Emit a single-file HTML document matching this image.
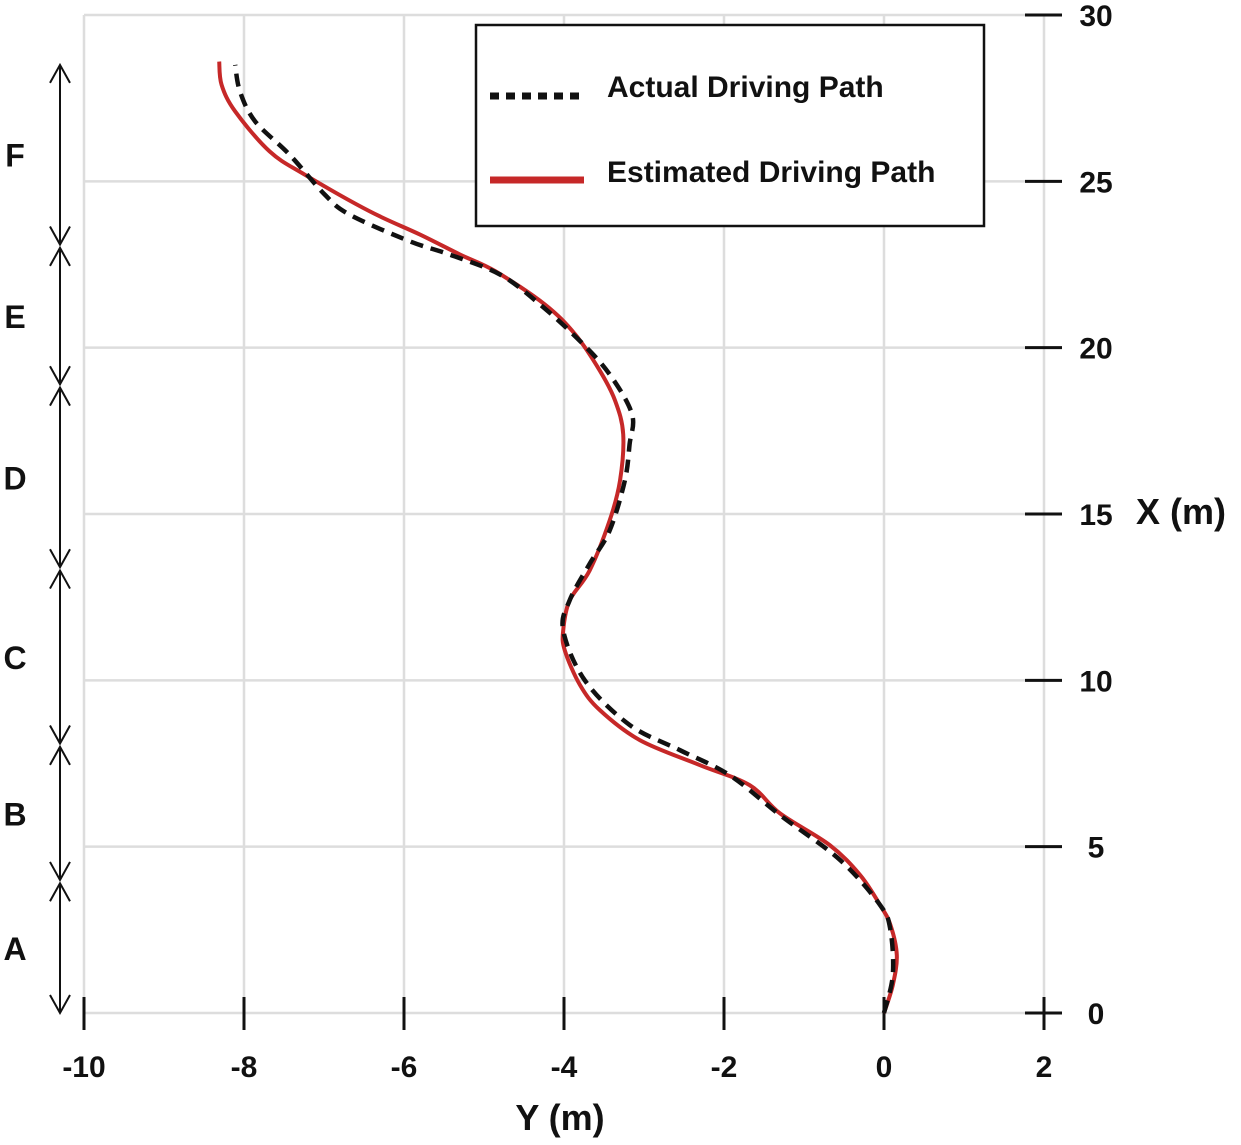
<!DOCTYPE html>
<html><head><meta charset="utf-8"><style>
body{margin:0;background:#fff}
text{font-family:"Liberation Sans",sans-serif;font-weight:bold;fill:#111}
</style></head><body>
<svg id="chart" width="1241" height="1140" xmlns="http://www.w3.org/2000/svg">
<g id="grid"></g>
<g id="axes"></g>
<g id="segments"></g>
<g id="series"></g>
<g>
<rect x="476" y="25" width="508" height="201" fill="#fff" stroke="#111" stroke-width="2.5"/>
<line x1="490" y1="96" x2="580" y2="96" stroke="#111" stroke-width="7" stroke-dasharray="9,7"/>
<text x="607" y="97" font-size="30">Actual Driving Path</text>
<line x1="490" y1="180" x2="584" y2="180" stroke="#c62828" stroke-width="7"/>
<text x="607" y="182" font-size="30">Estimated Driving Path</text>
</g>
<text x="560" y="1130" font-size="36" text-anchor="middle">Y (m)</text>
<text x="1136" y="524" font-size="36">X (m)</text>
</svg>
<script>
const yTicks=[-10,-8,-6,-4,-2,0,2];
const xTicks=[0,5,10,15,20,25,30];
const estY=[0,0.11,0.16,0.08,-0.05,-0.3,-0.68,-1.3,-1.68,-2.3,-3.05,-3.55,-3.8,-3.99,-4.01,-3.93,-3.68,-3.43,-3.3,-3.26,-3.36,-3.55,-3.86,-4.24,-4.86,-5.3,-5.8,-6.43,-7.24,-7.68,-8.11,-8.28,-8.31];
const estX=[0,0.84,1.74,2.65,3.25,4.15,5.05,6.0,6.85,7.45,8.2,9.1,9.86,10.9,11.5,12.4,13.3,14.8,16.0,17.4,18.4,19.3,20.4,21.3,22.3,22.8,23.4,24.1,25.2,25.9,27.1,27.9,28.6];
const actY=[0,0.11,0.08,-0.05,-0.55,-1.3,-1.93,-2.55,-3.18,-3.74,-4.01,-3.93,-3.68,-3.43,-3.24,-3.18,-3.15,-3.43,-3.8,-4.3,-4.8,-5.43,-5.93,-6.68,-6.99,-7.43,-7.86,-8.05,-8.11];
const actX=[0,1.14,2.5,3.25,4.6,5.95,7.15,7.9,8.66,10.0,11.5,12.4,13.5,14.5,16.0,17.1,18.0,19.2,20.2,21.3,22.2,22.8,23.2,24.0,24.6,25.8,26.8,27.7,28.5];
const segNames=["A","B","C","D","E","F"];
const segStart=[0,4,8.1,13.4,18.9,23.1];
const segEnd=[3.9,8.0,13.3,18.8,23.0,28.5];
const NS="http://www.w3.org/2000/svg";
const sx=v=>84+(v+10)*80;
const sy=v=>1013-v*(998/30);
function mk(tag,attrs,parent){const e=document.createElementNS(NS,tag);for(const k in attrs)e.setAttribute(k,attrs[k]);document.getElementById(parent).appendChild(e);return e;}
yTicks.forEach(t=>{
 const l=mk('line',{x1:sx(t),x2:sx(t),y1:15,y2:1013,stroke:'#ddd','stroke-width':2.5},'grid');
 
 
 const tk=mk('line',{x1:sx(t),x2:sx(t),y1:997,y2:1030,stroke:'#111','stroke-width':3},'axes');
 
 
 const tx=mk('text',{x:sx(t),y:1077,'font-size':30,'text-anchor':'middle'},'axes');
 tx.textContent=t;
 
 
});
xTicks.forEach(t=>{
 const l=mk('line',{x1:84,x2:1044,y1:sy(t),y2:sy(t),stroke:'#ddd','stroke-width':2.5},'grid');
 
 
 const tk=mk('line',{x1:1025,x2:1062,y1:sy(t),y2:sy(t),stroke:'#111','stroke-width':3},'axes');
 
 
 const tx=mk('text',{x:1096,y:sy(t)+11,'font-size':30,'text-anchor':'middle'},'axes');
 tx.textContent=t;
 
 
});
const ax=mk('line',{x1:1044,x2:1044,y1:997,y2:1030,stroke:'#111','stroke-width':3},'axes');


segNames.forEach((n,i)=>{
 const y1=sy(segEnd[i]),y2=sy(segStart[i]);
 const p=mk('path',{d:`M60 ${y1}V${y2}M50 ${y1+18}L60 ${y1}L70 ${y1+18}M50 ${y2-18}L60 ${y2}L70 ${y2-18}`,stroke:'#111','stroke-width':2,fill:'none'},'segments');
 
 
 const t=mk('text',{x:15,y:(y1+y2)/2+12,'font-size':32,'text-anchor':'middle'},'segments');
 t.textContent=n;
 
 
});
function smooth(ys,xs){
 const P=ys.map((v,i)=>[sx(v),sy(xs[i])]);
 let d=`M${P[0][0]} ${P[0][1]}`;
 for(let i=0;i<P.length-1;i++){
  const p0=P[Math.max(0,i-1)],p1=P[i],p2=P[i+1],p3=P[Math.min(P.length-1,i+2)];
  const c1=[p1[0]+(p2[0]-p0[0])/6,p1[1]+(p2[1]-p0[1])/6];
  const c2=[p2[0]-(p3[0]-p1[0])/6,p2[1]-(p3[1]-p1[1])/6];
  d+=`C${c1[0]} ${c1[1]} ${c2[0]} ${c2[1]} ${p2[0]} ${p2[1]}`;
 }
 return d;
}
const est=mk('path',{d:smooth(estY,estX),fill:'none',stroke:'#c62828','stroke-width':4,'stroke-linejoin':'round'},'series');


const act=mk('path',{d:smooth(actY,actX),fill:'none',stroke:'#111','stroke-width':4.5,'stroke-dasharray':'13,8'},'series');


</script>
</body></html>
